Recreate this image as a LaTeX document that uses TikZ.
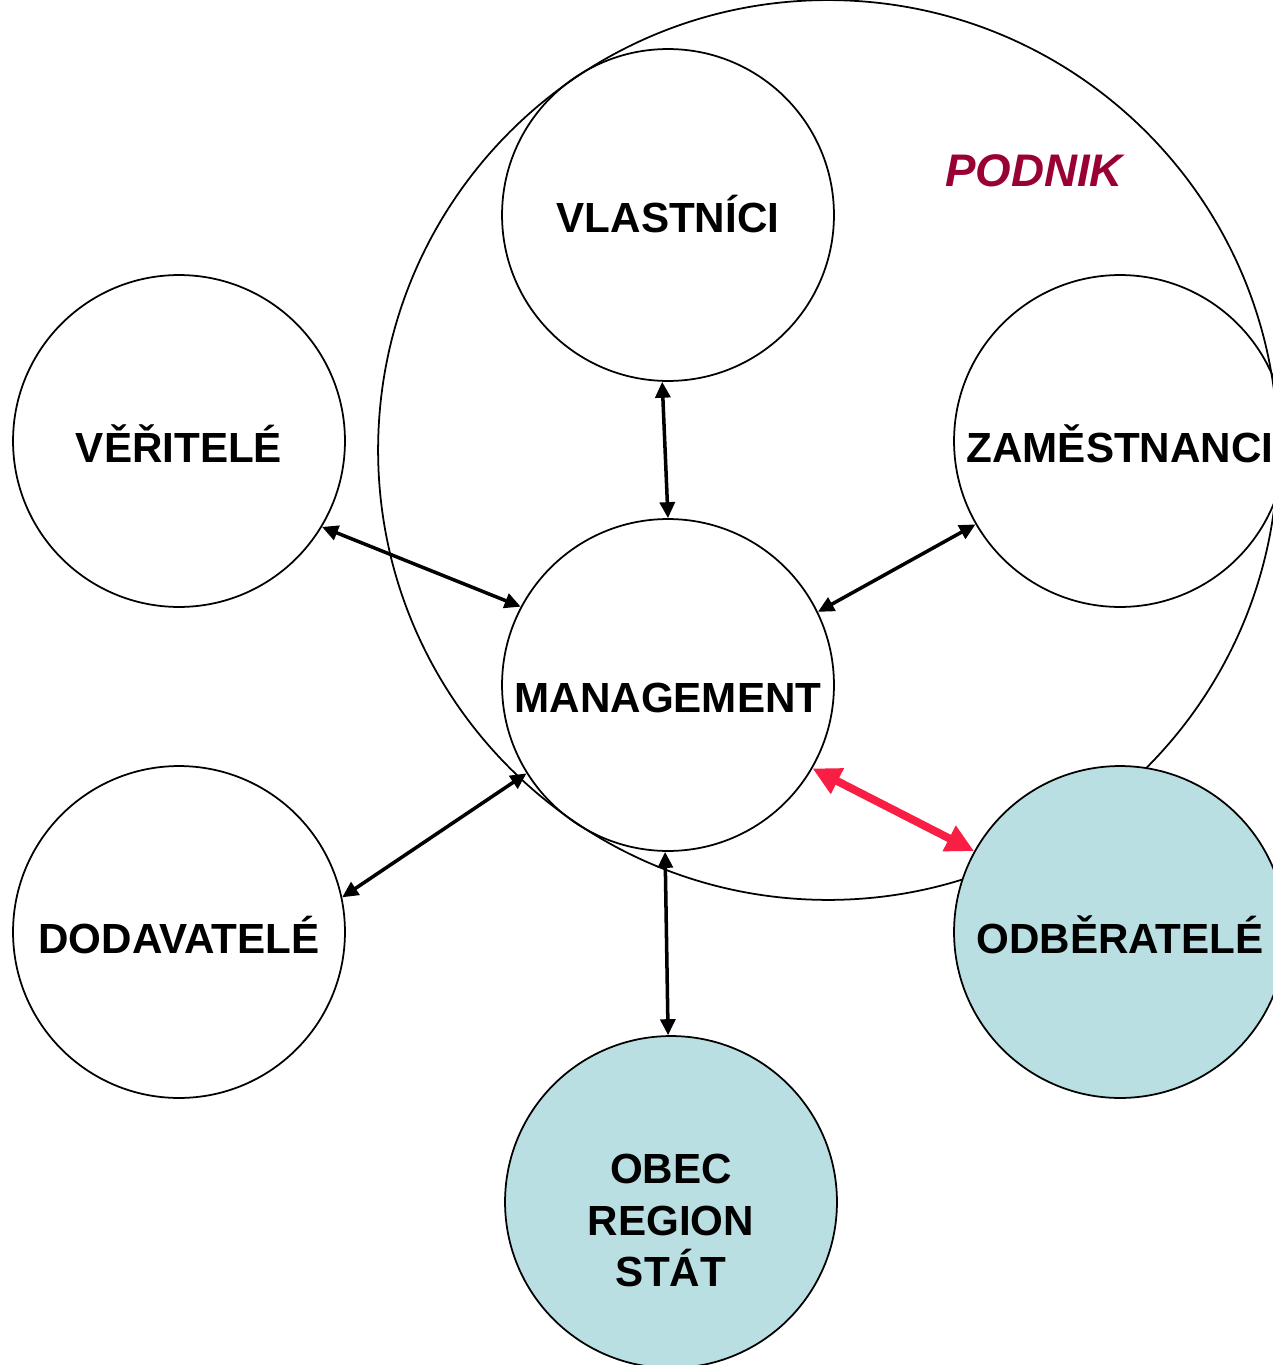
\documentclass[tikz,border=0pt]{standalone}
\usepackage{fontspec}
\setmainfont{Liberation Sans}
\usetikzlibrary{arrows.meta}
\definecolor{podnikred}{HTML}{990033}
\definecolor{lightblue}{HTML}{BADFE3}
\definecolor{arrowred}{HTML}{F81E44}
\newcommand\lowtext[2]{\raisebox{-#1}[0pt][0pt]{#2}}
\tikzset{
  party/.style={circle, draw=black, line width=1pt, minimum size=6.64cm, inner sep=0pt,
    font=\fontsize{24}{29.3}\selectfont\bfseries},
  shaded/.style={party, fill=lightblue},
  link/.style={line width=2pt, {Triangle[length=0.32cm,width=0.3cm]}-{Triangle[length=0.32cm,width=0.3cm]}},
  redlink/.style={line width=4.5pt, draw=arrowred, {Triangle[length=0.56cm,width=0.54cm]}-{Triangle[length=0.56cm,width=0.54cm]}}
}
\begin{document}
\begin{tikzpicture}[x=0.02cm,y=-0.02cm]
\clip (0,0) rectangle (1273,1365);
\fill[white] (0,0) rectangle (1273,1365);
% enterprise circle
\node[circle, draw=black, line width=1pt, minimum size=18cm, inner sep=0pt] (podnik) at (828,450) {};
\node[font=\fontsize{26}{30}\selectfont\bfseries\itshape, text=podnikred, anchor=base, inner sep=0pt] (podniklabel) at (1034,187) {PODNIK};
% stakeholders
\node[party] (vl) at (668,215) {\lowtext{10.2pt}{VLASTNÍCI}};
\node[party] (ve) at (179,441) {\lowtext{12pt}{VĚŘITELÉ}};
\node[party] (za) at (1120,441) {\lowtext{12.5pt}{ZAMĚSTNANCI}};
\node[party] (ma) at (668,685) {\lowtext{15.9pt}{MANAGEMENT}};
\node[party] (do) at (179,932) {\lowtext{12pt}{DODAVATELÉ}};
\node[shaded] (od) at (1120,932) {\lowtext{12.5pt}{ODBĚRATELÉ}};
\node[shaded] (ob) at (671,1202) {\raisebox{10.5pt}[0pt][0pt]{\vtop{\baselineskip=29.3pt\lineskiplimit=-100pt\halign{\hfil#\hfil\cr OBEC\cr REGION\cr STÁT\cr}}}};
% connectors
\draw[link] (vl.-92) -- (ma.90);
\draw[link] (ve.-31.5) -- (ma.152);
\draw[link] (za.210) -- (ma.26.4);
\draw[link] (do.12) -- (ma.212.5);
\draw[link] (ma.-91.4) -- (ob.91.4);
\draw[redlink] (ma.-30.9) -- (od.151);
\end{tikzpicture}
\end{document}
